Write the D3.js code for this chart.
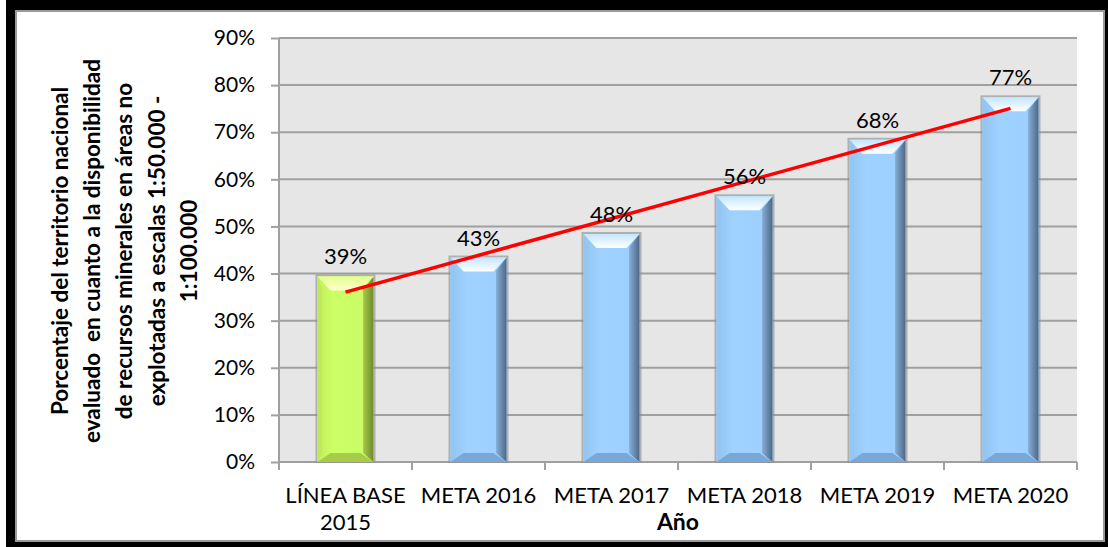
<!DOCTYPE html>
<html>
<head>
<meta charset="utf-8">
<script src="https://cdn.jsdelivr.net/npm/d3@7"></script>
<style>
  body { margin: 0; background: #fff; }
  svg { display: block; font-family: Lato, "Open Sans", sans-serif; }
</style>
</head>
<body>
<div id="chart"></div>
<script>
  var categories = ["LÍNEA BASE 2015", "META 2016", "META 2017", "META 2018", "META 2019", "META 2020"],
      catLines = [["LÍNEA BASE", "2015"], ["META 2016"], ["META 2017"], ["META 2018"], ["META 2019"], ["META 2020"]],
      values = [0.394, 0.434, 0.484, 0.564, 0.684, 0.774],
      yTicks = [0, 0.1, 0.2, 0.3, 0.4, 0.5, 0.6, 0.7, 0.8, 0.9],
      yTitle = ["Porcentaje del territorio nacional",
                "evaluado  en cuanto a la disponibilidad",
                "de recursos minerales en áreas no",
                "explotadas a escalas 1:50.000 -",
                "1:100.000"],
      xTitle = "Año";

  var W = 1108, H = 547,
      plot = { left: 279, right: 1077, top: 38, bottom: 462 },
      barW = 56, bev = 13, bevB = 9;

  var svg = d3.select("#chart").append("svg")
      .attr("width", W)
      .attr("height", H);

  // outer frame
  svg.append("rect").attr("x", 6).attr("y", 0).attr("width", W - 6).attr("height", H).attr("fill", "#000");
  svg.append("rect").attr("x", 16).attr("y", 11).attr("width", 1088).attr("height", 530)
      .attr("fill", "#fff").attr("stroke", "#9a9a9a").attr("stroke-width", 2);

  var x = d3.scaleBand().domain(categories).range([plot.left, plot.right]);
  var y = d3.scaleLinear().domain([0, 0.9]).range([plot.bottom, plot.top]);

  var defs = svg.append("defs");
  function grad(id, stops, vertical) {
    var g = defs.append("linearGradient").attr("id", id)
        .attr("x1", 0).attr("y1", 0).attr("x2", vertical ? 0 : 1).attr("y2", vertical ? 1 : 0);
    stops.forEach(function(s) { g.append("stop").attr("offset", s[0]).attr("stop-color", s[1]); });
  }
  var pal = {
    green: { body: ["#c2ee5c", "#ccff66", "#c8fa64"], top: ["#e4ff90", "#ffffd0"], right: ["#a8c84a", "#6e8a2a"], bottom: "#a6cc48", left: "#bfe85c" },
    blue:  { body: ["#92c4f0", "#9fd2ff", "#9ccfff"], top: ["#c4e6ff", "#ffffff"], right: ["#86aed6", "#4e6886"], bottom: "#78a8d8", left: "#94c6f2" }
  };
  Object.keys(pal).forEach(function(k) {
    var p = pal[k];
    grad(k + "Body", [[0, p.body[0]], [0.3, p.body[1]], [1, p.body[2]]], false);
    grad(k + "Top", [[0, p.top[0]], [1, p.top[1]]], true);
    grad(k + "Right", [[0, p.right[0]], [1, p.right[1]]], false);
  });

  // plot background + grid
  svg.append("rect").attr("x", plot.left).attr("y", plot.top)
      .attr("width", plot.right - plot.left).attr("height", plot.bottom - plot.top)
      .attr("fill", "#e6e6e6");

  svg.append("g").selectAll("line").data(yTicks.slice(1)).enter().append("line")
      .attr("x1", plot.left).attr("x2", plot.right)
      .attr("y1", function(d) { return y(d); }).attr("y2", function(d) { return y(d); })
      .attr("stroke", "#a0a0a0").attr("stroke-width", 2);

  // y axis
  var yAxis = svg.append("g").attr("transform", "translate(" + plot.left + ",0)")
      .call(d3.axisLeft(y).tickValues(yTicks).tickFormat(d3.format(".0%")).tickSize(8).tickPadding(16));
  yAxis.selectAll("path, line").attr("stroke", "#a0a0a0").attr("stroke-width", 2);
  yAxis.select(".domain").attr("d", "M0," + plot.top + "V" + (plot.bottom + 8));
  yAxis.selectAll("text").attr("font-size", 21).attr("font-family", "Lato").attr("fill", "#000");

  // x axis
  var xg = svg.append("g");
  xg.append("line").attr("x1", plot.left).attr("x2", plot.right)
      .attr("y1", plot.bottom).attr("y2", plot.bottom).attr("stroke", "#a0a0a0").attr("stroke-width", 2);
  xg.selectAll(".tk").data(categories.concat([null])).enter().append("line")
      .attr("x1", function(d) { return d === null ? x.range()[1] : x(d); })
      .attr("x2", function(d) { return d === null ? x.range()[1] : x(d); })
      .attr("y1", plot.bottom).attr("y2", plot.bottom + 8)
      .attr("stroke", "#a0a0a0").attr("stroke-width", 2);
  var ct = xg.selectAll(".cat").data(categories).enter().append("text")
      .attr("text-anchor", "middle").attr("font-size", 22).attr("fill", "#000");
  ct.each(function(d, i) {
    var t = d3.select(this);
    catLines[i].forEach(function(line, j) {
      t.append("tspan").attr("x", x(d) + x.bandwidth() / 2).attr("y", 503 + j * 27).text(line);
    });
  });

  // bars
  var bars = svg.append("g").selectAll("g").data(values).enter().append("g")
      .attr("transform", function(d, i) { return "translate(" + (x(categories[i]) + x.bandwidth() / 2 - barW / 2) + "," + y(d) + ")"; });
  bars.each(function(d, i) {
    var g = d3.select(this), k = i === 0 ? "green" : "blue", p = pal[k];
    var h = y(0) - y(d), w = barW;
    g.append("rect").attr("x", -1).attr("y", -1).attr("width", w + 2).attr("height", h + 1)
        .attr("fill", "none").attr("stroke", "#8c8c8c").attr("stroke-opacity", 0.6).attr("stroke-width", 2);
    g.append("rect").attr("width", w).attr("height", h).attr("fill", "url(#" + k + "Body)");
    g.append("polygon").attr("points", [[0, 0], [bev * 0.35, bev], [bev * 0.35, h - bevB], [0, h]].join(" "))
        .attr("fill", p.left);
    g.append("polygon").attr("points", [[w, 0], [w - bev * 0.8, bev], [w - bev * 0.8, h - bevB], [w, h]].join(" "))
        .attr("fill", "url(#" + k + "Right)");
    g.append("polygon").attr("points", [[0, h], [w, h], [w - bev, h - bevB], [bev, h - bevB]].join(" "))
        .attr("fill", p.bottom);
    g.append("polygon").attr("points", [[0, 0], [w, 0], [w - bev, bev + 1], [bev, bev + 1]].join(" "))
        .attr("fill", "url(#" + k + "Top)");
  });

  // linear trend line (least squares on the bar values)
  var n = values.length, xs = d3.range(n),
      mx = d3.mean(xs), my = d3.mean(values),
      slope = d3.sum(xs, function(i) { return (i - mx) * (values[i] - my); }) / d3.sum(xs, function(i) { return (i - mx) * (i - mx); }),
      icpt = my - slope * mx;
  var cx = function(i) { return x(categories[i]) + x.bandwidth() / 2; };
  svg.append("line")
      .attr("x1", cx(0)).attr("y1", y(icpt))
      .attr("x2", cx(n - 1)).attr("y2", y(icpt + slope * (n - 1)))
      .attr("stroke", "#ff0000").attr("stroke-width", 3.5);

  // data labels
  svg.append("g").selectAll("text").data(values).enter().append("text")
      .attr("x", function(d, i) { return cx(i); })
      .attr("y", function(d) { return y(d) - 12; })
      .attr("text-anchor", "middle").attr("font-size", 22).attr("fill", "#000")
      .text(d3.format(".0%"));

  // axis titles
  var yt = svg.append("text").attr("transform", "translate(0,251) rotate(-90)")
      .attr("text-anchor", "middle").attr("font-size", 22.5).attr("font-weight", "bold").attr("fill", "#000")
      .style("white-space", "pre");
  yTitle.forEach(function(line, j) {
    yt.append("tspan").attr("x", 0).attr("y", 68 + j * 32.2).text(line);
  });
  svg.append("text").attr("x", (plot.left + plot.right) / 2).attr("y", 530)
      .attr("text-anchor", "middle").attr("font-size", 23).attr("font-weight", "bold").attr("fill", "#000")
      .text(xTitle);
</script>
</body>
</html>
